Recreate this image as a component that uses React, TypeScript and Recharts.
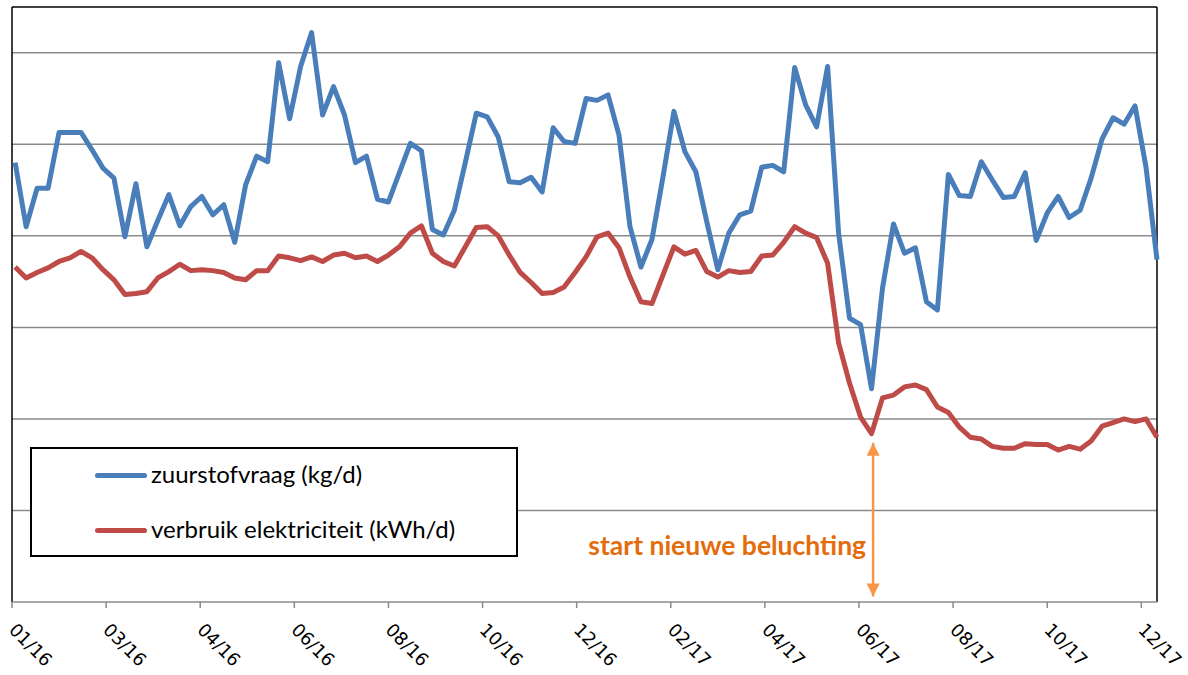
import React from 'react';
import { LineChart, Line, XAxis, YAxis, CartesianGrid, ReferenceLine, Legend } from 'recharts';

// x axis: day number since 1 Jan 2016, one tick every 60 days (Excel date axis)
const tickDays = [0, 60, 120, 180, 240, 300, 360, 420, 480, 540, 600, 660, 720];
const tickLabels = ['01/16', '03/16', '04/16', '06/16', '08/16', '10/16', '12/16', '02/17', '04/17', '06/17', '08/17', '10/17', '12/17'];
const gridValues = [100, 200, 300, 400, 500, 600];

// weekly values (no y labels in the original, so arbitrary units)
const zuurstofvraag = [
  480, 410, 452, 452, 513, 513, 513, 494, 474, 463,
  399, 457, 388, 417, 445, 411, 432, 443, 423, 434,
  393, 456, 487, 481, 589, 528, 585, 622, 532, 563,
  532, 480, 487, 440, 437, 469, 501, 493, 407, 401,
  428, 480, 534, 530, 508, 459, 458, 464, 448, 518,
  503, 501, 550, 548, 554, 510, 410, 366, 396, 464,
  536, 492, 470, 415, 363, 403, 423, 427, 475, 477,
  470, 584, 543, 519, 585, 403, 310, 303, 233, 343,
  413, 381, 387, 328, 319, 467, 444, 443, 481, 461,
  442, 443, 469, 395, 425, 443, 420, 428, 463, 506,
  529, 522, 542, 475, 374,
];

const verbruikElektriciteit = [
  366, 354, 360, 365, 372, 376, 383, 376, 363, 352,
  336, 337, 339, 354, 361, 369, 362, 363, 362, 360,
  354, 352, 362, 362, 378, 376, 373, 377, 372, 379,
  381, 376, 378, 372, 379, 388, 403, 411, 381, 372,
  367, 388, 409, 410, 400, 379, 360, 349, 337, 338,
  344, 360, 377, 399, 403, 387, 355, 328, 326, 357,
  388, 380, 384, 361, 355, 362, 360, 361, 378, 379,
  393, 410, 403, 398, 370, 283, 239, 202, 184, 223,
  226, 235, 237, 232, 213, 207, 191, 180, 178, 170,
  168, 168, 173, 172, 172, 166, 170, 167, 176, 192,
  196, 200, 197, 200, 180,
];

const FIRST_DAY = 2;
const WEEK = 7;
const START_DAY = 549; // start nieuwe beluchting

const data = zuurstofvraag.map((v, i) => ({
  day: FIRST_DAY + WEEK * i,
  zuurstofvraag: v,
  verbruik: verbruikElektriciteit[i],
}));

const BLUE = '#4A7EBB';
const RED = '#BE4B48';
const ORANGE = '#F79646';

function DateTick(props: any) {
  const { x, y, payload } = props;
  const label = tickLabels[tickDays.indexOf(payload.value)];
  const ox = x - 4;
  const oy = y + 21;
  return (
    <text x={ox} y={oy} transform={`rotate(45 ${ox} ${oy})`} fontSize={18} fontFamily="DejaVu Sans" fill="#000">
      {label}
    </text>
  );
}

function LegendBox() {
  const row = (color: string, text: string, top: number) => (
    <div style={{ position: 'absolute', left: 0, top, height: 0 }}>
      <div style={{ position: 'absolute', left: 63, top: -2.5, width: 52, height: 5, borderRadius: 3, background: color }} />
      <div style={{ position: 'absolute', left: 119, top: -17, whiteSpace: 'nowrap', fontSize: 24, lineHeight: '32px', fontFamily: 'Lato', color: '#000' }}>
        {text}
      </div>
    </div>
  );
  return (
    <div style={{ position: 'relative', boxSizing: 'border-box', width: 488, height: 110, border: '2px solid #000', background: '#fff' }}>
      {row(BLUE, 'zuurstofvraag (kg/d)', 26)}
      {row(RED, 'verbruik elektriciteit (kWh/d)', 81)}
    </div>
  );
}

export default function App() {
  return (
    <div style={{ position: 'absolute', left: 0, top: 0, width: 1188, height: 675, background: '#fff' }}>
      <LineChart width={1188} height={675} data={data} margin={{ top: 7, right: 31, bottom: 0, left: 12 }}>
        <defs>
          <marker id="arrowHead" viewBox="0 0 10 10" refX="10" refY="5" markerUnits="userSpaceOnUse"
            markerWidth="15" markerHeight="13" orient="auto-start-reverse">
            <path d="M0,0 L10,5 L0,10 z" fill={ORANGE} />
          </marker>
        </defs>
        <CartesianGrid vertical={false} horizontalValues={gridValues} stroke="#8A8A8A" strokeWidth={1.5} />
        <XAxis
          dataKey="day"
          type="number"
          domain={[0, 730]}
          ticks={tickDays}
          interval={0}
          height={73}
          tickSize={6}
          stroke="#8A8A8A"
          strokeWidth={1.5}
          tick={<DateTick />}
        />
        <YAxis hide domain={[0, 650]} ticks={gridValues} />
        <ReferenceLine x={0} stroke="#000" strokeWidth={1.5} />
        <ReferenceLine y={650} stroke="#000" strokeWidth={1.5} />
        <ReferenceLine x={730} stroke="#000" strokeWidth={1.5} />
        <Line type="linear" dataKey="zuurstofvraag" stroke={BLUE} strokeWidth={5} strokeLinejoin="round" dot={false} isAnimationActive={false} />
        <Line type="linear" dataKey="verbruik" stroke={RED} strokeWidth={5} strokeLinejoin="round" dot={false} isAnimationActive={false} />
        <ReferenceLine
          segment={[{ x: START_DAY, y: 6 }, { x: START_DAY, y: 174 }]}
          stroke={ORANGE}
          strokeWidth={2.5}
          markerStart="url(#arrowHead)"
          markerEnd="url(#arrowHead)"
          label={(p: any) => (
            <text x={p.viewBox.x - 7} y={p.viewBox.y + 112} textAnchor="end" fontFamily="Lato" fontWeight={700} fontSize={26.5} fill="#E46C0A">
              start nieuwe beluchting
            </text>
          )}
        />
        <Legend
          layout="vertical"
          align="center"
          verticalAlign="middle"
          wrapperStyle={{ left: 30, top: 447, width: 488, height: 110 }}
          content={() => <LegendBox />}
        />
      </LineChart>
    </div>
  );
}
